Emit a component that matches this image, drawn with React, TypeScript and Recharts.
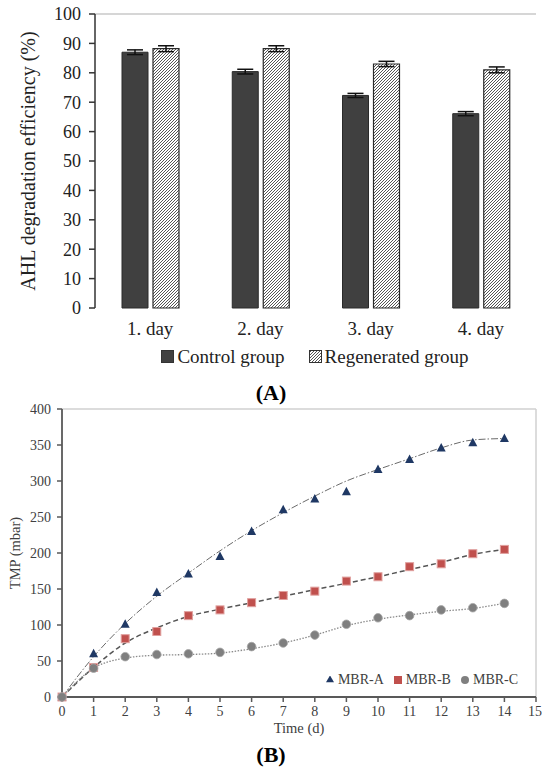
import React from "react";
import {
  BarChart,
  Bar,
  XAxis,
  YAxis,
  ErrorBar,
  Legend,
  ReferenceLine,
  ComposedChart,
  Line,
  Scatter,
} from "recharts";

// (A) AHL degradation
const days = ["1. day", "2. day", "3. day", "4. day"];
const controlGroup = [87.0, 80.4, 72.3, 66.1];
const controlErr = [0.8, 0.8, 0.7, 0.7];
const regeneratedGroup = [88.2, 88.2, 83.0, 81.0];
const regeneratedErr = [1.0, 1.0, 0.9, 1.0];
const pctTicks = [0, 10, 20, 30, 40, 50, 60, 70, 80, 90, 100];

// (B) TMP
const timeDays = [0, 1, 2, 3, 4, 5, 6, 7, 8, 9, 10, 11, 12, 13, 14];
const mbrA = [0, 60, 101, 145, 171, 195, 230, 260, 275, 285, 316, 330, 346, 353, 359];
const mbrB = [0, 41, 81, 91, 113, 121, 131, 141, 147, 161, 167, 181, 185, 199, 205];
const mbrC = [0, 40, 56, 59, 60, 62, 70, 75, 86, 101, 110, 113, 121, 124, 130];
// trend lines
const trendA = [0, 56, 102, 140, 172, 203, 231, 256, 279, 300, 316, 331, 346, 357, 359];
const trendB = [0, 41, 75, 96, 112, 122, 131, 140, 149, 158, 167, 177, 187, 198, 205];
const trendC = [0, 40, 54, 58, 59, 61, 67, 75, 86, 99, 108, 114, 119, 123, 130];
const tmpTicks = [0, 50, 100, 150, 200, 250, 300, 350, 400];
const timeTicks = [0, 1, 2, 3, 4, 5, 6, 7, 8, 9, 10, 11, 12, 13, 14, 15];

const barData = days.map((d, i) => ({
  day: d,
  control: controlGroup[i],
  controlErr: controlErr[i],
  regen: regeneratedGroup[i],
  regenErr: regeneratedErr[i],
}));

const tmpData = timeDays.map((t, i) => ({
  t,
  a: mbrA[i],
  b: mbrB[i],
  c: mbrC[i],
  ta: trendA[i],
  tb: trendB[i],
  tc: trendC[i],
}));

const serif = "'Liberation Serif', 'Times New Roman', serif";

const BarLegend = (props: any) => {
  const items = props.payload || [];
  return (
    <div style={{ display: "flex", justifyContent: "center", gap: 24, fontFamily: serif, fontSize: 19, color: "#222" }}>
      {items.map((it: any) => (
        <div key={it.value} style={{ display: "flex", alignItems: "center", gap: 2 }}>
          <svg width={14} height={14}>
            <rect
              x={0.5}
              y={0.5}
              width={12}
              height={12}
              fill={it.dataKey === "regen" ? "url(#hatch)" : "#404040"}
              stroke="#333"
              strokeWidth={1}
            />
          </svg>
          <span>{it.value}</span>
        </div>
      ))}
    </div>
  );
};

const Triangle = (p: any) => {
  const { cx, cy } = p;
  if (cx == null || cy == null) return null;
  return <path d={`M${cx},${cy - 5} L${cx + 4.5},${cy + 3.5} L${cx - 4.5},${cy + 3.5} Z`} fill="#1F3864" />;
};
const Square = (p: any) => {
  const { cx, cy } = p;
  if (cx == null || cy == null) return null;
  return <rect x={cx - 4} y={cy - 4} width={8} height={8} fill="#C0504D" stroke="#E0A09E" strokeWidth={1} />;
};
const Dot = (p: any) => {
  const { cx, cy } = p;
  if (cx == null || cy == null) return null;
  return <circle cx={cx} cy={cy} r={4.3} fill="#7F7F7F" stroke="#A6A6A6" strokeWidth={0.8} />;
};

export default function App() {
  return (
    <div style={{ position: "absolute", left: 0, top: 0, width: 542, height: 769, background: "#fff", fontFamily: serif }}>
      <div style={{ position: "absolute", left: 0, top: 0 }}>
        <BarChart
          width={542}
          height={378}
          data={barData}
          margin={{ top: 14, right: 6, left: 0, bottom: 34 }}
          barGap={5}
        >
          <defs>
            <pattern id="hatch" patternUnits="userSpaceOnUse" width={3} height={3}>
              <rect width={3} height={3} fill="#fff" />
              <path d="M-1,1 l2,-2 M0,3 l3,-3 M2,4 l2,-2" stroke="#555" strokeWidth={1} />
            </pattern>
          </defs>
          <XAxis
            xAxisId="edge"
            type="number"
            domain={[0, 4]}
            ticks={[0, 1, 2, 3, 4]}
            tick={false}
            height={0}
            axisLine={{ stroke: "#333", strokeWidth: 1.5 }}
            tickLine={{ stroke: "#333", strokeWidth: 1.5 }}
            tickSize={6}
            allowDataOverflow
          />
          <XAxis
            xAxisId="cat"
            dataKey="day"
            axisLine={false}
            tickLine={false}
            tickSize={6}
            tickMargin={8}
            height={36}
            tick={{ fontSize: 19, fill: "#222", fontFamily: serif }}
          />
          <YAxis
            domain={[0, 100]}
            ticks={pctTicks}
            width={95}
            tickSize={6}
            tickMargin={8}
            axisLine={{ stroke: "#333", strokeWidth: 1.5 }}
            tickLine={{ stroke: "#333", strokeWidth: 1.5 }}
            tick={{ fontSize: 18, fill: "#222", fontFamily: serif }}
            label={{
              value: "AHL degradation efficiency (%)",
              angle: -90,
              position: "insideLeft",
              offset: 28,
              style: { textAnchor: "middle", fontSize: 20, fill: "#222", fontFamily: serif },
            }}
          />
          <ReferenceLine y={100} stroke="#c8c8c8" strokeWidth={1.5} />
          <ReferenceLine xAxisId="edge" x={4} stroke="#c8c8c8" strokeWidth={1.5} />
          <Legend
            verticalAlign="middle"
            layout="horizontal"
            content={<BarLegend />}
            wrapperStyle={{ position: "absolute", top: 346, left: 95, width: 440 }}
          />
          <Bar xAxisId="cat" dataKey="control" name="Control group" fill="#404040" stroke="#2a2a2a" barSize={26} isAnimationActive={false}>
            <ErrorBar dataKey="controlErr" width={8} stroke="#111" strokeWidth={1.5} />
          </Bar>
          <Bar xAxisId="cat" dataKey="regen" name="Regenerated group" fill="url(#hatch)" stroke="#2a2a2a" strokeWidth={1.2} barSize={26} isAnimationActive={false}>
            <ErrorBar dataKey="regenErr" width={8} stroke="#111" strokeWidth={1.5} />
          </Bar>
        </BarChart>
      </div>

      <div style={{ position: "absolute", left: 0, width: 542, top: 380, textAlign: "center", fontWeight: "bold", fontSize: 22, color: "#000" }}>
        (A)
      </div>

      <div style={{ position: "absolute", left: 0, top: 395 }}>
        <ComposedChart width={542} height={350} data={tmpData} margin={{ top: 14, right: 6, left: 0, bottom: 0 }}>
          <XAxis
            dataKey="t"
            type="number"
            domain={[0, 15]}
            ticks={timeTicks}
            height={48}
            tickSize={5}
            tickMargin={4}
            axisLine={{ stroke: "#595959", strokeWidth: 1.8 }}
            tickLine={{ stroke: "#595959", strokeWidth: 1.5 }}
            tick={{ fontSize: 14, fill: "#404040", fontFamily: serif }}
            label={{
              value: "Time (d)",
              position: "insideBottom",
              offset: 12,
              style: { fontSize: 14.5, fill: "#404040", fontFamily: serif },
            }}
          />
          <YAxis
            domain={[0, 400]}
            ticks={tmpTicks}
            width={62}
            tickSize={5}
            tickMargin={6}
            axisLine={{ stroke: "#595959", strokeWidth: 1.8 }}
            tickLine={{ stroke: "#595959", strokeWidth: 1.5 }}
            tick={{ fontSize: 14, fill: "#404040", fontFamily: serif }}
            label={{
              value: "TMP (mbar)",
              angle: -90,
              position: "insideLeft",
              offset: 15,
              style: { textAnchor: "middle", fontSize: 14.5, fill: "#404040", fontFamily: serif },
            }}
          />
          <ReferenceLine y={400} stroke="#d0d0d0" strokeWidth={1.5} />
          <ReferenceLine x={15} stroke="#d0d0d0" strokeWidth={1.5} />
          <Legend
            verticalAlign="middle"
            layout="horizontal"
            iconSize={8}
            formatter={(v: any) => <span style={{ color: "#404040", fontSize: 14, fontFamily: serif }}>{v}</span>}
            wrapperStyle={{ position: "absolute", top: 275, left: 322, width: 210 }}
          />
          <Line dataKey="ta" type="monotone" stroke="#6b6b6b" strokeWidth={1} strokeDasharray="7 2 1.5 2" dot={false} activeDot={false} legendType="none" isAnimationActive={false} />
          <Line dataKey="tb" type="monotone" stroke="#555" strokeWidth={1.5} strokeDasharray="5 3" dot={false} activeDot={false} legendType="none" isAnimationActive={false} />
          <Line dataKey="tc" type="monotone" stroke="#8a8a8a" strokeWidth={1.3} strokeDasharray="1.5 1.5" dot={false} activeDot={false} legendType="none" isAnimationActive={false} />
          <Scatter dataKey="a" name="MBR-A" fill="#1F3864" legendType="triangle" shape={<Triangle />} isAnimationActive={false} />
          <Scatter dataKey="b" name="MBR-B" fill="#C0504D" legendType="square" shape={<Square />} isAnimationActive={false} />
          <Scatter dataKey="c" name="MBR-C" fill="#7F7F7F" legendType="circle" shape={<Dot />} isAnimationActive={false} />
        </ComposedChart>
      </div>

      <div style={{ position: "absolute", left: 0, width: 542, top: 742, textAlign: "center", fontWeight: "bold", fontSize: 22, color: "#000" }}>
        (B)
      </div>
    </div>
  );
}
